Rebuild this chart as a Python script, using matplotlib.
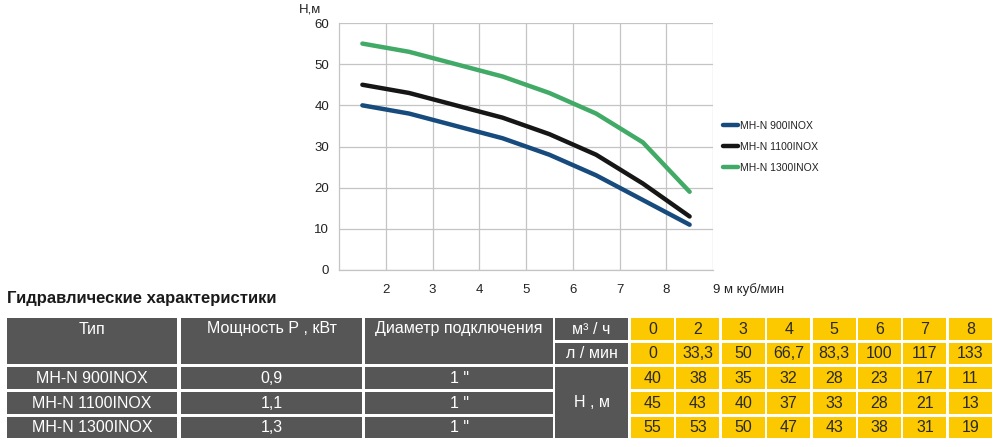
import matplotlib
matplotlib.use("Agg")
import matplotlib.pyplot as plt
from matplotlib.patches import Rectangle
import numpy as np

plt.rcParams['font.family'] = ['Liberation Sans', 'DejaVu Sans']
NARROW = ['Liberation Sans Narrow', 'Liberation Sans', 'DejaVu Sans']

# данные таблицы
flow_m3h = ['0', '2', '3', '4', '5', '6', '7', '8']
flow_lmin = ['0', '33,3', '50', '66,7', '83,3', '100', '117', '133']
models = ['MH-N 900INOX', 'MH-N 1100INOX', 'MH-N 1300INOX']
power = ['0,9', '1,1', '1,3']
diameter = ['1 "', '1 "', '1 "']
head_900 = [40, 38, 35, 32, 28, 23, 17, 11]
head_1100 = [45, 43, 40, 37, 33, 28, 21, 13]
head_1300 = [55, 53, 50, 47, 43, 38, 31, 19]
heads = [head_900, head_1100, head_1300]
line_colors = ['#174b7d', '#161616', '#40aa66']

x_ticks = [2, 3, 4, 5, 6, 7, 8]
y_ticks = [0, 10, 20, 30, 40, 50, 60]

W, H = 1000, 447
fig = plt.figure(figsize=(W / 100, H / 100), dpi=100)

# холст для таблицы в пикселях
tab = fig.add_axes([0, 0, 1, 1])
tab.set_xlim(0, W)
tab.set_ylim(H, 0)
tab.axis('off')

# график
ax = fig.add_axes([339 / W, 1 - 270 / H, 374 / W, 247 / H])
grid_c = '#c4c4c4'
xs = np.arange(len(head_900)) + 1.5
for h, c, name in zip(heads, line_colors, models):
    ax.plot(xs, h, color=c, lw=3.2, solid_joinstyle='round',
            solid_capstyle='round', label=name, zorder=3)

ax.set_xlim(1, 9)
ax.set_ylim(0, 60)
ax.set_xticks(x_ticks + [9])
ax.set_xticklabels([str(t) for t in x_ticks] + [''])
ax.set_yticks(y_ticks)
ax.grid(True, color=grid_c, lw=0.9)
ax.tick_params(length=0, labelsize=9.5, colors='#222222')
ax.tick_params(axis='y', pad=7)
ax.tick_params(axis='x', pad=10)
for s in ax.spines.values():
    s.set_color(grid_c)
    s.set_linewidth(0.9)
ax.spines['top'].set_visible(False)
ax.spines['right'].set_visible(False)

ax.text(9, -0.078, '9 м куб/мин', transform=ax.get_xaxis_transform(),
        ha='left', va='center', fontsize=9.5, color='#222222')
tab.text(310, 10, 'Н,м', ha='center', va='center', fontsize=9.5,
         color='#222222')

leg = ax.legend(loc='upper left', bbox_to_anchor=(723 / W, 1 - 121 / H),
                bbox_transform=fig.transFigure, frameon=False, fontsize=7.5,
                borderpad=0, borderaxespad=0, handlelength=1.45,
                handletextpad=0.15, labelspacing=1.05)
for t in leg.get_texts():
    t.set_color('#222222')

# таблица
tab.text(7, 298, 'Гидравлические характеристики', ha='left', va='center',
         fontsize=12, fontweight='bold', color='#1a1a1a')

dark = '#565656'
yellow = '#fcc800'
rows = [(318, 340), (343, 364), (367, 389), (392, 414), (417, 438)]
left_cols = [(7, 177), (181, 362), (365, 553)]
unit_col = (555, 628)
y0, step, cw = 631, 45.4, 43

def cell(x0, x1, ya, yb, color):
    tab.add_patch(Rectangle((x0, ya), x1 - x0, yb - ya, color=color, lw=0))

headers = ['Тип', 'Мощность Р , кВт', 'Диаметр подключения']
columns = [models, power, diameter]
for (x0, x1), head, vals in zip(left_cols, headers, columns):
    cell(x0, x1, rows[0][0], rows[1][1], dark)
    tab.text((x0 + x1) / 2, (rows[0][0] + rows[0][1]) / 2, head,
             ha='center', va='center', fontsize=11.5, color='white')
    for (ya, yb), v in zip(rows[2:], vals):
        cell(x0, x1, ya, yb, dark)
        tab.text((x0 + x1) / 2, (ya + yb) / 2 + 0.5, v, ha='center',
                 va='center', fontsize=11.5, color='white')

ux0, ux1 = unit_col
for (ya, yb), lab in zip(rows[:2], ['м³ / ч', 'л / мин']):
    cell(ux0, ux1, ya, yb, dark)
    tab.text((ux0 + ux1) / 2, (ya + yb) / 2, lab, ha='center', va='center',
             fontsize=11.5, color='white')
cell(ux0, ux1, rows[2][0], rows[4][1], dark)
tab.text((ux0 + ux1) / 2, (rows[2][0] + rows[4][1]) / 2, 'Н , м',
         ha='center', va='center', fontsize=11.5, color='white')

table_rows = [flow_m3h, flow_lmin] + [[str(v) for v in h] for h in heads]
for (ya, yb), vals in zip(rows, table_rows):
    for i, v in enumerate(vals):
        x0 = y0 + i * step
        cell(x0, x0 + cw, ya, yb, yellow)
        tab.text(x0 + cw / 2, (ya + yb) / 2 + 0.5, v, ha='center',
                 va='center', fontsize=11.5, color='#2a2a2a')

fig.savefig('out.png', dpi=100)
